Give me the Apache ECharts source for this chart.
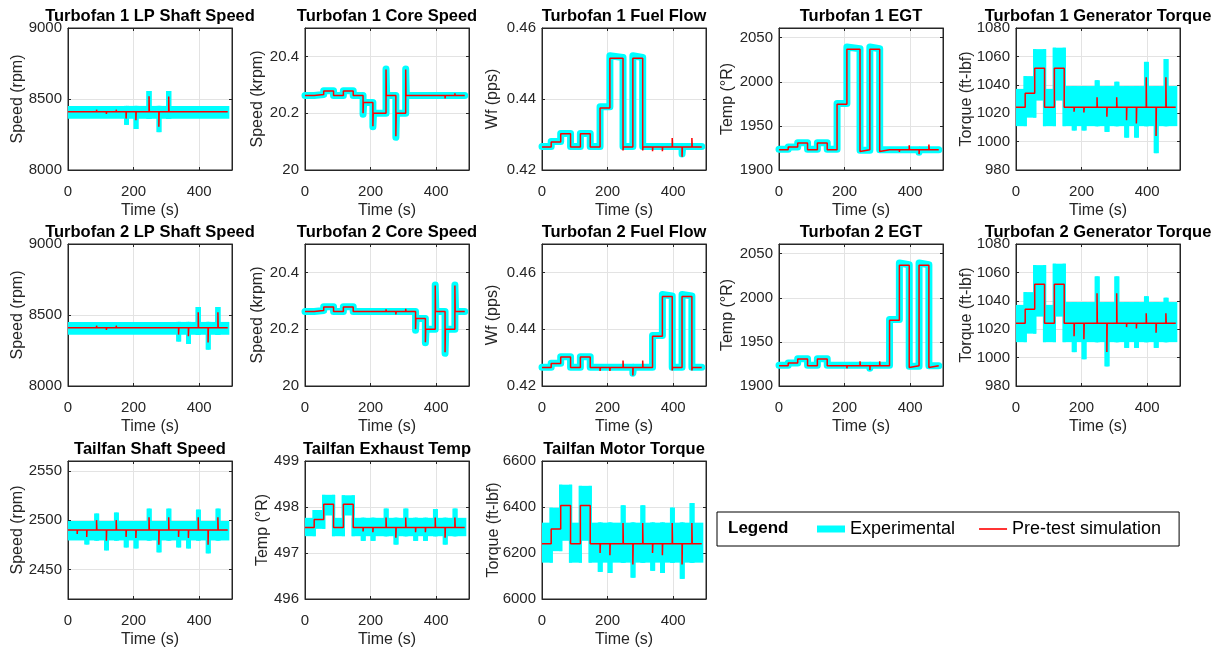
<!DOCTYPE html>
<html><head><meta charset="utf-8">
<script src="https://cdn.jsdelivr.net/npm/echarts@6/dist/echarts.min.js"></script>
<style>html,body{margin:0;padding:0;background:#fff}#c{width:1217px;height:649px}</style>
</head><body><div id="c"></div>
<script>
// ---------------- DATA ----------------
const titles = ['Turbofan 1 LP Shaft Speed','Turbofan 1 Core Speed','Turbofan 1 Fuel Flow','Turbofan 1 EGT','Turbofan 1 Generator Torque',
  'Turbofan 2 LP Shaft Speed','Turbofan 2 Core Speed','Turbofan 2 Fuel Flow','Turbofan 2 EGT','Turbofan 2 Generator Torque',
  'Tailfan Shaft Speed','Tailfan Exhaust Temp','Tailfan Motor Torque'];
const yNames = ['Speed (rpm)','Speed (krpm)','Wf (pps)','Temp (°R)','Torque (ft-lbf)',
  'Speed (rpm)','Speed (krpm)','Wf (pps)','Temp (°R)','Torque (ft-lbf)',
  'Speed (rpm)','Temp (°R)','Torque (ft-lbf)'];
const xName = 'Time (s)';
const timeRange = [0, 500];
const timeTicks = [0, 200, 400];
const yRanges = [[8000,9000],[20,20.5],[0.42,0.46],[1900,2061],[980,1080],
  [8000,9000],[20,20.5],[0.42,0.47],[1900,2061],[980,1080],
  [2420,2560],[496,499],[6000,6600]];
const yTicks = [[8000,8500,9000],[20,20.2,20.4],[0.42,0.44,0.46],[1900,1950,2000,2050],[980,1000,1020,1040,1060,1080],
  [8000,8500,9000],[20,20.2,20.4],[0.42,0.44,0.46],[1900,1950,2000,2050],[980,1000,1020,1040,1060,1080],
  [2450,2500,2550],[496,497,498,499],[6000,6200,6400,6600]];
const legendNames = ['Experimental','Pre-test simulation'];

// Pre-test simulation: [time, value] (value holds until next time)
const lp1Sim = [[0,8410],[28,8402],[29,8410],[57,8403],[58,8410],[87,8425],[88,8410],[117,8395],[118,8410],[147,8425],[148,8410],[177,8362],[178,8410],[207,8350],[208,8410],[247,8520],[248,8410],[277,8305],[278,8410],[307,8518],[308,8410],[337,8402],[338,8410],[367,8402],[368,8410],[397,8400],[398,8410],[427,8420],[428,8410],[457,8400],[458,8410],[487,8410]];
const core1Sim = [[0,20.262],[28,20.266],[57,20.278],[87,20.262],[117,20.278],[147,20.262],[177,20.200],[178,20.238],[207,20.154],[208,20.200],[247,20.354],[248,20.262],[277,20.119],[278,20.200],[307,20.354],[308,20.262],[337,20.256],[338,20.262],[367,20.257],[368,20.262],[397,20.268],[398,20.262],[427,20.252],[428,20.262],[457,20.270],[458,20.262],[487,20.262]];
const fuel1Sim = [[0,0.4265],[28,0.4279],[57,0.4302],[87,0.4265],[117,0.4302],[147,0.4265],[177,0.4375],[207,0.4515],[247,0.4255],[248,0.4265],[277,0.4515],[307,0.4255],[308,0.4265],[337,0.4253],[338,0.4265],[367,0.4253],[368,0.4265],[397,0.4290],[398,0.4265],[427,0.4237],[428,0.4265],[457,0.4290],[458,0.4265],[487,0.4265]];
const egt1Sim = [[0,1923],[28,1926],[57,1930.5],[87,1923],[117,1930.5],[147,1923],[177,1974.5],[207,2037],[247,1921],[248,1923],[277,2037],[307,1921],[308,1923],[337,1921],[338,1923],[367,1920.5],[368,1923],[397,1928],[398,1923],[427,1918],[428,1923],[457,1929],[458,1923],[487,1923]];
const gen1Sim = [[0,1024.2],[28,1034.1],[57,1051.6],[87,1024.2],[117,1051.6],[147,1024.2],[177,1021],[178,1024.2],[207,1020.5],[208,1024.2],[247,1031.3],[248,1024.2],[277,1017.5],[278,1024.2],[307,1031.3],[308,1024.2],[337,1015],[338,1024.2],[367,1012.8],[368,1024.2],[397,1045.3],[398,1024.2],[427,1003.9],[428,1024.2],[457,1045.3],[458,1024.2],[487,1024.2]];
const lp2Sim = [[0,8410],[28,8402],[29,8410],[57,8403],[58,8410],[87,8425],[88,8410],[117,8395],[118,8410],[147,8425],[148,8410],[177,8418],[178,8410],[207,8415],[208,8410],[247,8400],[248,8410],[277,8420],[278,8410],[307,8402],[308,8410],[337,8362],[338,8410],[367,8350],[368,8410],[397,8520],[398,8410],[427,8307],[428,8410],[457,8520],[458,8410],[487,8410]];
const core2Sim = [[0,20.262],[28,20.266],[57,20.278],[87,20.262],[117,20.278],[147,20.262],[177,20.256],[178,20.262],[207,20.257],[208,20.262],[247,20.270],[248,20.262],[277,20.252],[278,20.262],[307,20.272],[308,20.262],[337,20.200],[338,20.238],[367,20.154],[368,20.200],[397,20.354],[398,20.262],[427,20.119],[428,20.200],[457,20.354],[458,20.262],[487,20.262]];
const fuel2Sim = [[0,0.4265],[28,0.4279],[57,0.4302],[87,0.4265],[117,0.4302],[147,0.4265],[177,0.4253],[178,0.4265],[207,0.4253],[208,0.4265],[247,0.4290],[248,0.4265],[277,0.4237],[278,0.4265],[307,0.4290],[308,0.4265],[337,0.4375],[367,0.4515],[397,0.4255],[398,0.4265],[427,0.4515],[457,0.4255],[458,0.4265],[487,0.4265]];
const egt2Sim = [[0,1923],[28,1926],[57,1930.5],[87,1923],[117,1930.5],[147,1923],[177,1921],[178,1923],[207,1920],[208,1923],[247,1928],[248,1923],[277,1918],[278,1923],[307,1928],[308,1923],[337,1974.5],[367,2037],[397,1921],[398,1923],[427,2037],[457,1921],[458,1923],[487,1923]];
const gen2Sim = [[0,1024.2],[28,1034.1],[57,1051.6],[87,1024.2],[117,1051.6],[147,1024.2],[177,1015],[178,1024.2],[207,1013],[208,1024.2],[247,1045.3],[248,1024.2],[277,1004],[278,1024.2],[307,1045.3],[308,1024.2],[337,1021.5],[338,1024.2],[367,1020.5],[368,1024.2],[397,1031.3],[398,1024.2],[427,1017.5],[428,1024.2],[457,1031.3],[458,1024.2],[487,1024.2]];
const tfSpeedSim = [[0,2490],[28,2486],[29,2490],[57,2483],[58,2490],[87,2500],[88,2490],[117,2479],[118,2490],[147,2500],[148,2490],[177,2483],[178,2490],[207,2482],[208,2490],[247,2503],[248,2490],[277,2475],[278,2490],[307,2503],[308,2490],[337,2483],[338,2490],[367,2482],[368,2490],[397,2503],[398,2490],[427,2475],[428,2490],[457,2503],[458,2490],[487,2490]];
const tfTempSim = [[0,497.555],[28,497.73],[57,498.06],[87,497.555],[117,498.06],[147,497.555],[177,497.47],[178,497.555],[207,497.45],[208,497.555],[247,497.77],[248,497.555],[277,497.33],[278,497.555],[307,497.77],[308,497.555],[337,497.45],[338,497.555],[367,497.45],[368,497.555],[397,497.77],[398,497.555],[427,497.33],[428,497.555],[457,497.77],[458,497.555],[487,497.555]];
const tfTorqueSim = [[0,6240],[28,6304],[57,6407],[87,6240],[117,6407],[147,6240],[177,6200],[178,6240],[207,6190],[208,6240],[247,6330],[248,6240],[277,6150],[278,6240],[307,6330],[308,6240],[337,6200],[338,6240],[367,6190],[368,6240],[397,6330],[398,6240],[427,6150],[428,6240],[457,6330],[458,6240],[487,6240]];

// Experimental, smooth channels: [time, value]
const core1Exp = [[0,20.262],[28,20.266],[57,20.279],[87,20.262],[117,20.279],[147,20.262],[177,20.196],[179,20.238],[207,20.152],[209,20.200],[247,20.356],[249,20.262],[277,20.115],[279,20.200],[307,20.356],[309,20.262],[487,20.262]];
const fuel1Exp = [[0,0.4266],[28,0.4280],[57,0.4303],[87,0.4266],[117,0.4303],[147,0.4266],[177,0.4378],[207,0.4522],[210,0.4517],[247,0.4266],[277,0.4522],[280,0.4517],[307,0.4266],[427,0.4245],[429,0.4266],[487,0.4266]];
const egt1Exp = [[0,1923.5],[28,1926],[57,1931],[87,1923.5],[117,1931],[147,1923.5],[177,1975.5],[207,2039.5],[212,2037.5],[247,1922.5],[277,2039.5],[282,2037.5],[307,1923],[427,1920],[429,1923],[487,1923]];
const core2Exp = [[0,20.262],[28,20.266],[57,20.279],[87,20.262],[117,20.279],[147,20.262],[337,20.196],[339,20.238],[367,20.152],[369,20.200],[397,20.356],[399,20.262],[427,20.115],[429,20.200],[457,20.356],[459,20.262],[487,20.262]];
const fuel2Exp = [[0,0.4266],[28,0.4280],[57,0.4303],[87,0.4266],[117,0.4303],[147,0.4266],[277,0.4245],[279,0.4266],[337,0.4378],[367,0.4522],[370,0.4517],[397,0.4266],[427,0.4522],[430,0.4517],[457,0.4266],[487,0.4266]];
const egt2Exp = [[0,1923.5],[28,1926],[57,1931],[87,1923.5],[117,1931],[147,1923.5],[277,1920],[279,1923.5],[337,1975.5],[367,2039.5],[372,2037.5],[397,1922.5],[427,2039.5],[432,2037.5],[457,1923],[487,1923]];

// Experimental, noisy channels: [time, low edge, high edge] (holds until next time)
const lp1Band = [[0,8372,8440],[176,8330,8440],[181,8372,8440],[205,8300,8440],[210,8372,8440],[244,8372,8545],[250,8372,8440],[275,8278,8440],[280,8372,8440],[304,8372,8545],[310,8372,8440],[487,8372,8440]];
const gen1Band = [[0,1012,1036],[28,1018,1045],[57,1030,1064],[87,1012,1036],[117,1030,1065],[147,1012,1038],[175,1009,1038],[180,1012,1038],[205,1009,1038],[210,1012,1038],[245,1012,1042],[250,1012,1038],[275,1008,1038],[280,1012,1038],[305,1012,1041],[310,1012,1038],[335,1004,1038],[340,1012,1038],[365,1004,1038],[370,1012,1038],[395,1012,1055],[400,1012,1038],[425,993,1038],[430,1012,1038],[455,1012,1057],[460,1012,1038],[487,1012,1038]];
const lp2Band = [[0,8372,8440],[335,8325,8440],[340,8372,8440],[365,8308,8440],[370,8372,8440],[394,8372,8545],[400,8372,8440],[425,8268,8440],[430,8372,8440],[454,8372,8545],[460,8372,8440],[487,8372,8440]];
const gen2Band = [[0,1012,1036],[28,1018,1045],[57,1030,1064],[87,1012,1036],[117,1030,1065],[147,1012,1038],[175,1005,1038],[180,1012,1038],[205,1000,1038],[210,1012,1038],[245,1012,1056],[250,1012,1038],[275,995,1038],[280,1012,1038],[305,1012,1056],[310,1012,1038],[335,1008,1038],[340,1012,1038],[365,1008,1038],[370,1012,1038],[395,1012,1042],[400,1012,1038],[425,1008,1038],[430,1012,1038],[455,1012,1041],[460,1012,1038],[487,1012,1038]];
const tfSpeedBand = [[0,2481,2497.5],[55,2477,2497.5],[60,2481,2497.5],[85,2481,2505],[90,2481,2497.5],[115,2471,2497.5],[120,2481,2497.5],[145,2481,2506],[150,2481,2497.5],[175,2474,2497.5],[180,2481,2497.5],[205,2473,2497.5],[210,2481,2497.5],[245,2481,2510],[250,2481,2497.5],[275,2469,2497.5],[280,2481,2497.5],[305,2481,2510],[310,2481,2497.5],[335,2474,2497.5],[340,2481,2497.5],[365,2473,2497.5],[370,2481,2497.5],[395,2481,2509],[400,2481,2497.5],[425,2468,2497.5],[430,2481,2497.5],[455,2481,2510],[460,2481,2497.5],[487,2481,2497.5]];
const tfTempBand = [[0,497.40,497.73],[28,497.56,497.90],[57,497.85,498.23],[87,497.40,497.73],[117,497.85,498.22],[147,497.40,497.73],[175,497.30,497.73],[180,497.40,497.73],[205,497.30,497.73],[210,497.40,497.73],[245,497.40,497.93],[250,497.40,497.73],[275,497.22,497.73],[280,497.40,497.73],[305,497.40,497.93],[310,497.40,497.73],[335,497.30,497.73],[340,497.40,497.73],[365,497.30,497.73],[370,497.40,497.73],[395,497.40,497.92],[400,497.40,497.73],[425,497.22,497.73],[430,497.40,497.73],[455,497.40,497.93],[460,497.40,497.73],[487,497.40,497.73]];
const tfTorqueBand = [[0,6165,6325],[28,6215,6390],[57,6260,6490],[87,6165,6325],[117,6260,6485],[147,6165,6325],[175,6125,6325],[180,6165,6325],[205,6120,6325],[210,6165,6325],[245,6165,6400],[250,6165,6325],[275,6100,6325],[280,6165,6325],[305,6165,6400],[310,6165,6325],[335,6130,6325],[340,6165,6325],[365,6120,6325],[370,6165,6325],[395,6165,6390],[400,6165,6325],[425,6095,6325],[430,6165,6325],[455,6165,6410],[460,6165,6325],[487,6165,6325]];

const simData = [lp1Sim,core1Sim,fuel1Sim,egt1Sim,gen1Sim,lp2Sim,core2Sim,fuel2Sim,egt2Sim,gen2Sim,tfSpeedSim,tfTempSim,tfTorqueSim];
const expData = [null,core1Exp,fuel1Exp,egt1Exp,null,null,core2Exp,fuel2Exp,egt2Exp,null,null,null,null];
const bandData = [lp1Band,null,null,null,gen1Band,lp2Band,null,null,null,gen2Band,tfSpeedBand,tfTempBand,tfTorqueBand];

// ---------------- LAYOUT / STYLE ----------------
const FONT = "'Liberation Sans', Arial, Helvetica, sans-serif";
const colLeft = [68, 305, 542, 779, 1016];
const rowTop = [28, 244, 461];
const plotW = 164, plotH = 142;
const yNameGap = [42,39,41,43,41, 42,39,41,43,41, 42,34,40];
const TXT = '#262626', GRIDC = '#e3e3e3', CYAN = '#00ffff', RED = '#ff0000';
const PAD = 1.6; // px half thickness of the experimental trace edge

function renderBand(params, api) {
  const cs = params.coordSys;
  const clipTo = {x: cs.x, y: cs.y, width: cs.width, height: cs.height};
  const a = api.coord([api.value(0), api.value(3)]);
  const b = api.coord([api.value(1), api.value(2)]);
  const children = [];
  const main = echarts.graphic.clipRectByRect(
    {x: a[0] - PAD, y: a[1] - PAD, width: b[0] - a[0] + 2 * PAD, height: b[1] - a[1] + 2 * PAD}, clipTo);
  if (main) children.push({type: 'rect', shape: main, style: {fill: CYAN}});
  const nLo = api.value(4), nHi = api.value(5);
  if (!isNaN(nLo)) {
    const top = api.coord([api.value(1), Math.max(api.value(3), nHi)]);
    const bot = api.coord([api.value(1), Math.min(api.value(2), nLo)]);
    const conn = echarts.graphic.clipRectByRect(
      {x: top[0] - PAD, y: top[1] - PAD, width: 2 * PAD, height: bot[1] - top[1] + 2 * PAD}, clipTo);
    if (conn) children.push({type: 'rect', shape: conn, style: {fill: CYAN}});
  }
  return {type: 'group', children};
}

const grids = [], xAxes = [], yAxes = [], series = [], titleOpts = [];
const fmt = v => String(v);
const n = titles.length;
titles.forEach((t, i) => {
  const r = Math.floor(i / 5), c = i % 5;
  const left = colLeft[c], top = rowTop[r];
  grids.push({left, top, width: plotW, height: plotH, show: true, borderColor: TXT, borderWidth: 1, backgroundColor: 'transparent'});
  titleOpts.push({text: t, left: left + plotW / 2, top: top - 20, textAlign: 'center', padding: 0,
    textStyle: {fontFamily: FONT, fontSize: 16.5, fontWeight: 'bold', color: '#000'}});
  xAxes[i] = {gridIndex: i, type: 'value', min: timeRange[0], max: timeRange[1],
    name: xName, nameLocation: 'middle', nameGap: 33, nameMoveOverlap: false,
    nameTextStyle: {fontFamily: FONT, fontSize: 16, color: TXT},
    axisLine: {show: true, onZero: false, lineStyle: {color: TXT, width: 1}},
    axisTick: {show: true, inside: true, length: 3, customValues: timeTicks, lineStyle: {color: TXT}},
    axisLabel: {customValues: timeTicks, formatter: fmt, fontFamily: FONT, fontSize: 15, color: TXT, margin: 14},
    splitLine: {show: true, lineStyle: {color: GRIDC, width: 1}}};
  yAxes[i] = {gridIndex: i, type: 'value', min: yRanges[i][0], max: yRanges[i][1],
    name: yNames[i], nameLocation: 'middle', nameGap: yNameGap[i], nameMoveOverlap: false,
    nameTextStyle: {fontFamily: FONT, fontSize: 16, color: TXT},
    axisLine: {show: true, onZero: false, lineStyle: {color: TXT, width: 1}},
    axisTick: {show: true, inside: true, length: 3, customValues: yTicks[i], lineStyle: {color: TXT}},
    axisLabel: {customValues: yTicks[i], formatter: fmt, fontFamily: FONT, fontSize: 15, color: TXT, margin: 6},
    splitLine: {show: true, lineStyle: {color: GRIDC, width: 1}}};
  // mirrored box axes (inward ticks on top and right)
  xAxes[n + i] = {gridIndex: i, type: 'value', position: 'top', min: timeRange[0], max: timeRange[1],
    axisLine: {show: true, onZero: false, lineStyle: {color: TXT}},
    axisTick: {show: true, inside: true, length: 3, customValues: timeTicks, lineStyle: {color: TXT}},
    axisLabel: {show: false}, splitLine: {show: false}};
  yAxes[n + i] = {gridIndex: i, type: 'value', position: 'right', min: yRanges[i][0], max: yRanges[i][1],
    axisLine: {show: true, onZero: false, lineStyle: {color: TXT}},
    axisTick: {show: true, inside: true, length: 3, customValues: yTicks[i], lineStyle: {color: TXT}},
    axisLabel: {show: false}, splitLine: {show: false}};
});

// Experimental smooth traces
expData.forEach((d, i) => {
  if (!d) return;
  series.push({type: 'line', name: 'Experimental', xAxisIndex: i, yAxisIndex: i, data: d, step: 'end',
    symbol: 'none', z: 2, silent: true,
    lineStyle: {color: CYAN, width: 7, cap: 'round', join: 'round'}, itemStyle: {color: CYAN}});
});
// Experimental noisy traces drawn as their envelope
bandData.forEach((d, i) => {
  if (!d) return;
  const rows = d.slice(0, -1).map((p, k) => {
    const nx = d[k + 1], hasNext = k + 2 < d.length;
    return [p[0], nx[0], p[1], p[2], hasNext ? nx[1] : NaN, hasNext ? nx[2] : NaN];
  });
  series.push({type: 'custom', name: 'Experimental', xAxisIndex: i, yAxisIndex: i, data: rows,
    encode: {x: [0, 1], y: [2, 3]}, renderItem: renderBand, z: 2, silent: true, itemStyle: {color: CYAN}});
});
simData.forEach((d, i) => {
  series.push({type: 'line', name: 'Pre-test simulation', xAxisIndex: i, yAxisIndex: i, data: d, step: 'end',
    symbol: 'none', z: 3, silent: true,
    lineStyle: {color: RED, width: 1.5}, itemStyle: {color: RED}});
});

const chart = echarts.init(document.getElementById('c'), null, {renderer: 'canvas'});
chart.setOption({
  animation: false,
  backgroundColor: '#fff',
  title: titleOpts,
  grid: grids, xAxis: xAxes, yAxis: yAxes, series,
  legend: {data: [
      {name: legendNames[0], icon: 'path://M0,0L28,0L28,7L0,7Z', itemStyle: {color: CYAN}},
      {name: legendNames[1], icon: 'path://M0,0L28,0L28,1.6L0,1.6Z', itemStyle: {color: RED}}],
    left: 717, top: 512, orient: 'horizontal', z: 10,
    padding: [8, 18, 8, 100], itemWidth: 28, itemHeight: 7, itemGap: 24,
    borderColor: '#000', borderWidth: 1, backgroundColor: '#fff',
    selectedMode: false,
    textStyle: {fontFamily: FONT, fontSize: 18, color: '#000'}},
  graphic: [{type: 'text', left: 728, top: 520, z: 100,
    style: {text: 'Legend', font: 'bold 17px ' + FONT, fill: '#000'}}]
});
</script></body></html>
